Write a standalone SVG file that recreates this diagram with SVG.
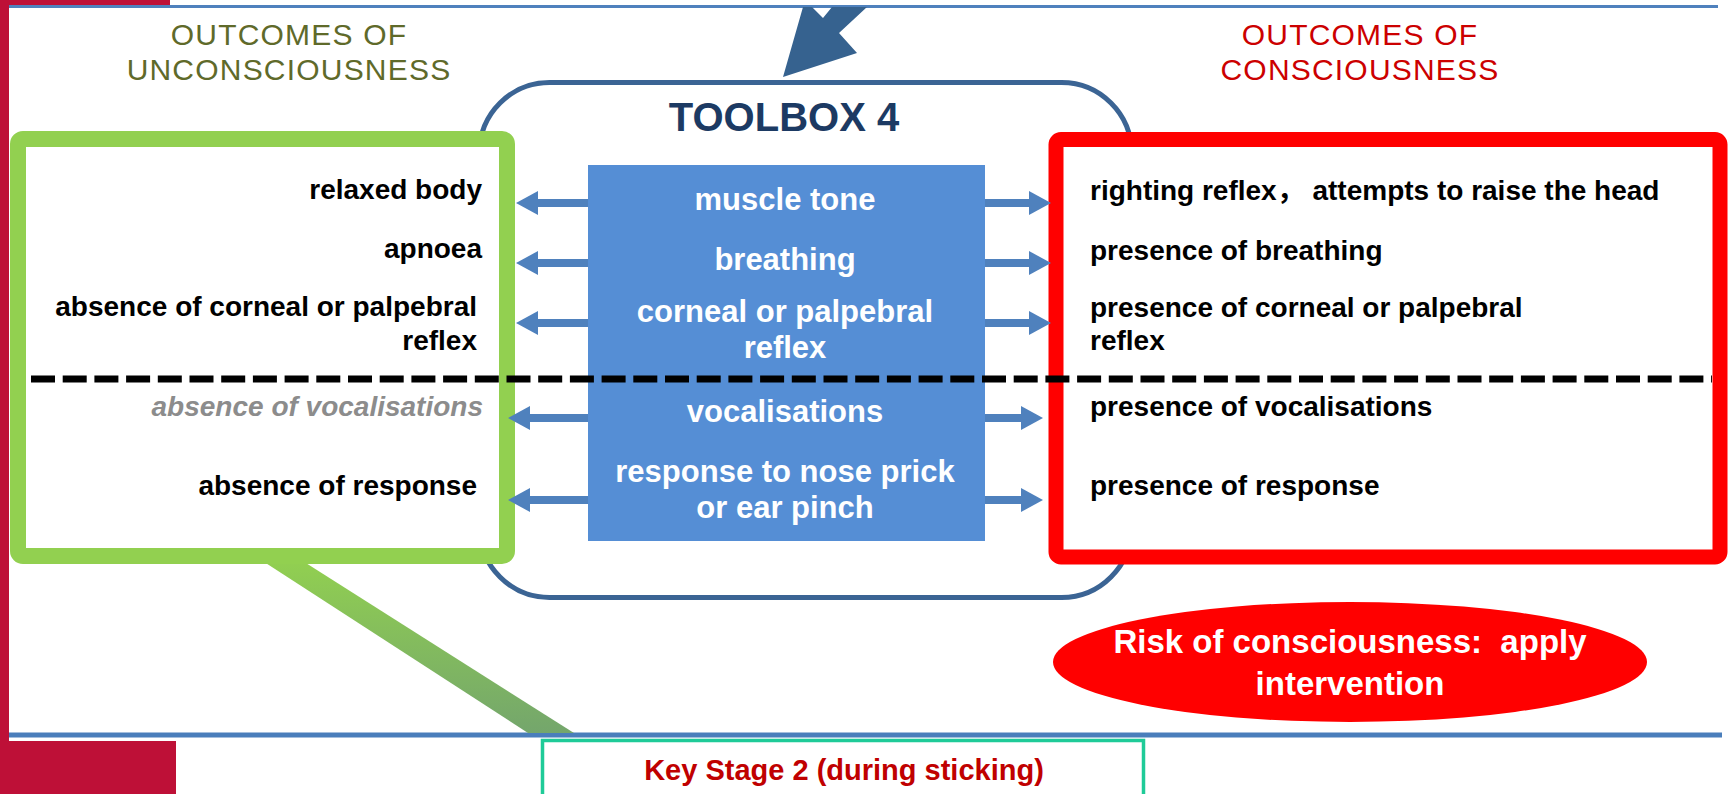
<svg xmlns="http://www.w3.org/2000/svg" width="1731" height="794" viewBox="0 0 1731 794">
<defs>
<style>
.t{font-family:"Liberation Sans",Arial,"Noto Sans CJK SC",sans-serif;}
.lb{font-size:28px;font-weight:bold;fill:#000;}
.cw{font-size:31px;font-weight:bold;fill:#fff;text-anchor:middle;}
.ttl{font-size:30px;letter-spacing:1.2px;text-anchor:middle;}
.arr{stroke:#4f81bd;stroke-width:8;fill:none;marker-end:url(#ah);}
</style>
<marker id="ah" viewBox="0 0 22 24" markerWidth="22" markerHeight="24" refX="10" refY="12" orient="auto" markerUnits="userSpaceOnUse">
<path d="M0,0 L22,12 L0,24 z" fill="#4f81bd"/>
</marker>
<linearGradient id="gg" x1="0" y1="0" x2="0" y2="1">
<stop offset="0" stop-color="#92d050"/>
<stop offset="1" stop-color="#74a66c"/>
</linearGradient>
</defs>
<rect width="1731" height="794" fill="#fff"/>
<g id="frame">
<rect x="0" y="0" width="9" height="741" fill="#be1037"/>
<rect x="0" y="0" width="170" height="5" fill="#be1037"/>
<rect x="0" y="741" width="176" height="53" fill="#be1037"/>
<line x1="9" y1="6.5" x2="1718" y2="6.5" stroke="#4f81bd" stroke-width="3"/>
<line x1="9" y1="735" x2="1722" y2="735" stroke="#4a7ebb" stroke-width="5"/>
</g>
<g id="connectors">
<polygon points="258,558 298,558 574,733 528,733" fill="url(#gg)"/>
<polygon points="803,7 812,7 823,18 832,7 867,7 839,33 857,53 783,77" fill="#36628f"/>
</g>
<g id="toolbox">
<rect x="479.5" y="82.5" width="652" height="515" rx="70" fill="none" stroke="#3b6494" stroke-width="5"/>
<text class="t" x="784" y="131" font-size="40" font-weight="bold" fill="#1c3a63" text-anchor="middle">TOOLBOX 4</text>
</g>
<g id="title-unconscious">
<text class="t ttl" x="289" y="45" fill="#5f6a2a">OUTCOMES OF</text>
<text class="t ttl" x="289" y="80" fill="#5f6a2a">UNCONSCIOUSNESS</text>
</g>
<g id="title-conscious">
<text class="t ttl" x="1360" y="45" fill="#cc0000">OUTCOMES OF</text>
<text class="t ttl" x="1360" y="80" fill="#cc0000">CONSCIOUSNESS</text>
</g>
<g id="unconscious-box">
<rect x="18" y="139" width="489" height="417" rx="5" fill="#fff" stroke="#92d050" stroke-width="16"/>
<text class="t lb" x="482" y="199" text-anchor="end">relaxed body</text>
<text class="t lb" x="482" y="258" text-anchor="end">apnoea</text>
<text class="t lb" x="477" y="316" text-anchor="end">absence of corneal or palpebral</text>
<text class="t lb" x="477" y="350" text-anchor="end">reflex</text>
<text class="t lb" x="483" y="416" text-anchor="end" font-style="italic" style="fill:#8c8c8c">absence of vocalisations</text>
<text class="t lb" x="477" y="495" text-anchor="end">absence of response</text>
</g>
<g id="conscious-box">
<rect x="1056" y="139.5" width="664" height="417.5" rx="5" fill="#fff" stroke="#ff0000" stroke-width="15"/>
<text class="t lb" x="1090" y="200">righting reflex， attempts to raise the head</text>
<text class="t lb" x="1090" y="260">presence of breathing</text>
<text class="t lb" x="1090" y="317">presence of corneal or palpebral</text>
<text class="t lb" x="1090" y="350">reflex</text>
<text class="t lb" x="1090" y="416">presence of vocalisations</text>
<text class="t lb" x="1090" y="495">presence of response</text>
</g>
<g id="criteria">
<rect x="588" y="165" width="397" height="376" fill="#558ed5"/>
<text class="t cw" x="785" y="210">muscle tone</text>
<text class="t cw" x="785" y="270">breathing</text>
<text class="t cw" x="785" y="322">corneal or palpebral</text>
<text class="t cw" x="785" y="358">reflex</text>
<text class="t cw" x="785" y="422">vocalisations</text>
<text class="t cw" x="785" y="482">response to nose prick</text>
<text class="t cw" x="785" y="518">or ear pinch</text>
</g>
<g id="arrows">
<line class="arr" x1="588" y1="203" x2="528" y2="203"/>
<line class="arr" x1="588" y1="263" x2="528" y2="263"/>
<line class="arr" x1="588" y1="323" x2="528" y2="323"/>
<line class="arr" x1="588" y1="418" x2="520" y2="418"/>
<line class="arr" x1="588" y1="500" x2="520" y2="500"/>
<line class="arr" x1="985" y1="203" x2="1039" y2="203"/>
<line class="arr" x1="985" y1="263" x2="1039" y2="263"/>
<line class="arr" x1="985" y1="323" x2="1039" y2="323"/>
<line class="arr" x1="985" y1="418" x2="1031" y2="418"/>
<line class="arr" x1="985" y1="500" x2="1031" y2="500"/>
</g>
<g id="divider">
<line x1="31" y1="379" x2="1712" y2="379" stroke="#000" stroke-width="7" stroke-dasharray="24 7.7"/>
</g>
<g id="risk">
<ellipse cx="1350" cy="662" rx="297" ry="60" fill="#ff0000"/>
<text class="t" x="1350" y="653" font-size="33" font-weight="bold" fill="#fff" text-anchor="middle" xml:space="preserve">Risk of consciousness:  apply</text>
<text class="t" x="1350" y="695" font-size="33" font-weight="bold" fill="#fff" text-anchor="middle">intervention</text>
</g>
<g id="key-stage">
<rect x="542.5" y="740.5" width="601" height="70" fill="#fff" stroke="#1fcb98" stroke-width="3.5"/>
<text class="t" x="844" y="780" font-size="29" font-weight="bold" fill="#c00000" text-anchor="middle">Key Stage 2 (during sticking)</text>
</g>
</svg>
